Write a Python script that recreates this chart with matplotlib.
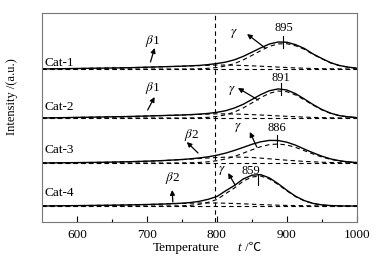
import matplotlib
matplotlib.use("Agg")
import matplotlib.pyplot as plt
import numpy as np

plt.rcParams['font.family'] = ['Liberation Serif', 'DejaVu Serif']
plt.rcParams['mathtext.fontset'] = 'stix'

temps = [550, 575, 600, 625, 650, 675, 700, 725, 750, 762.5, 775, 787.5, 800, 812.5, 825,
         837.5, 850, 862.5, 875, 887.5, 900, 912.5, 925, 937.5, 950, 962.5, 975, 987.5, 1000]

names = ["Cat-1", "Cat-2", "Cat-3", "Cat-4"]
baselines = [153, 104, 59, 16]

total1 = [0, 0.3, 0.5, 0.8, 1.0, 1.3, 1.8, 2.3, 2.8, 3.2, 3.6, 4.4, 5.5, 6.9, 9.2,
          12.6, 16.8, 21.1, 25.0, 27.0, 26.8, 24.3, 20.5, 15.0, 10.5, 6.3, 3.5, 1.9, 0.8]
beta1 = [0, 0.3, 0.5, 0.8, 1.0, 1.3, 1.8, 2.3, 2.8, 3.1, 3.4, 3.7, 4.0, 3.9, 3.8,
         3.5, 3.2, 2.8, 2.4, 1.9, 1.5, 1.1, 0.8, 0.5, 0.3, 0.2, 0.1, 0.05, 0]
gamma1 = [0, 0, 0, 0, 0, 0, 0, 0, 0, 0.1, 0.2, 0.7, 1.5, 3.0, 5.4,
          9.1, 13.6, 18.3, 22.6, 25.1, 25.3, 23.2, 19.7, 14.5, 10.2, 6.1, 3.4, 1.8, 0.8]

total2 = [0, 0.3, 0.6, 0.9, 1.2, 1.5, 2.0, 2.5, 3.0, 3.4, 3.9, 4.6, 5.7, 7.3, 10.0,
          13.7, 18.5, 23.4, 27.3, 29.1, 28.0, 24.3, 19.0, 13.4, 8.5, 4.8, 2.4, 1.2, 0.4]
beta2 = [0, 0.3, 0.6, 0.9, 1.2, 1.5, 2.0, 2.5, 3.0, 3.3, 3.6, 3.9, 4.2, 4.1, 4.0,
         3.7, 3.4, 3.0, 2.6, 2.1, 1.7, 1.3, 0.9, 0.6, 0.4, 0.2, 0.1, 0.05, 0]
gamma2 = [0, 0, 0, 0, 0, 0, 0, 0, 0, 0.1, 0.3, 0.7, 1.5, 3.2, 6.0,
          10.0, 15.1, 20.4, 24.7, 27.0, 26.3, 23.0, 18.1, 12.8, 8.1, 4.6, 2.3, 1.1, 0.4]

total3 = [0, 0.2, 0.4, 0.6, 0.9, 1.3, 1.8, 2.5, 3.5, 4.2, 5.1, 6.2, 7.8, 9.9, 12.6,
          15.6, 18.7, 21.2, 22.6, 22.5, 20.8, 17.8, 13.9, 10.2, 6.8, 4.1, 2.3, 1.1, 0.5]
beta3 = [0, 0.2, 0.4, 0.6, 0.9, 1.3, 1.8, 2.5, 3.4, 3.9, 4.5, 5.0, 5.5, 5.8, 6.0,
         5.8, 5.5, 4.9, 4.2, 3.5, 2.8, 2.2, 1.6, 1.2, 0.8, 0.5, 0.3, 0.1, 0]
gamma3 = [0, 0, 0, 0, 0, 0, 0, 0, 0.1, 0.25, 0.6, 1.2, 2.3, 4.1, 6.6,
          9.8, 13.2, 16.3, 18.4, 19.0, 18.0, 15.6, 12.3, 9.0, 6.0, 3.6, 2.0, 1.0, 0.5]

total4 = [0, 0.2, 0.4, 0.6, 0.8, 1.1, 1.5, 2.0, 2.8, 3.5, 4.7, 6.7, 9.5, 15.2, 20.5,
          27.0, 30.8, 31.4, 28.1, 22.3, 15.7, 9.7, 5.4, 2.6, 1.1, 0.45, 0.1, 0, 0]
beta4 = [0, 0.2, 0.4, 0.6, 0.8, 1.1, 1.5, 2.0, 2.6, 2.8, 3.0, 3.0, 3.0, 2.8, 2.5,
         2.2, 1.8, 1.4, 1.1, 0.8, 0.6, 0.4, 0.3, 0.2, 0.1, 0.05, 0, 0, 0]
gamma4 = [0, 0, 0, 0, 0, 0, 0, 0, 0.2, 0.7, 1.7, 3.7, 6.5, 12.4, 18.0,
          24.8, 29.0, 30.0, 27.0, 21.5, 15.1, 9.3, 5.1, 2.4, 1.0, 0.4, 0.1, 0, 0]

totals = [total1, total2, total3, total4]
betas = [beta1, beta2, beta3, beta4]
gammas = [gamma1, gamma2, gamma3, gamma4]

peak_temps = [895, 891, 886, 859]
peak_heights = [27, 29, 22, 31]
peak_label_xy = [(895, 194), (891, 144), (886, 94), (849, 51)]
beta_labels = [r"$\beta$1", r"$\beta$1", r"$\beta$2", r"$\beta$2"]
beta_text_xy = [(708, 181), (708, 134), (764, 87), (736, 44)]
beta_tail = [(705, 160), (701, 112), (773, 69), (737, 20)]
beta_head = [(711, 174), (711, 125), (757, 80), (736, 32)]
gamma_text_xy = [(824, 189), (821, 132), (830, 95), (807, 52)]
gamma_tail = [(869, 174), (859, 122), (857, 75), (826, 37)]
gamma_head = [(843, 188), (830, 134), (847, 90), (816, 49)]
label_y = [159, 115, 72, 29]
split_temp = 797

fig = plt.figure(figsize=(3.85, 2.58), dpi=100)
ax = fig.add_axes([0.109, 0.1395, 0.818, 0.8101])
x = np.array(temps)
dash = (0, (4, 3))
for i in range(4):
    b = baselines[i]
    ax.plot([temps[0], temps[-1]], [b, b], ls=dash, color='k', lw=0.8)
    ax.plot(x, b + np.array(betas[i]), ls=dash, color='k', lw=0.8)
    ax.plot(x, b + np.array(gammas[i]), ls=dash, color='k', lw=0.8)
    ax.plot(x, b + np.array(totals[i]), color='k', lw=1.0)
    pk = b + peak_heights[i]
    if i == 3:
        ax.plot([peak_temps[i], peak_temps[i]], [pk - 10, pk + 1], color='k', lw=0.8)
    else:
        ax.plot([peak_temps[i], peak_temps[i]], [pk - 6, pk + 6], color='k', lw=0.8)
    ax.text(*peak_label_xy[i], str(peak_temps[i]), ha='center', va='center', fontsize=9)
    ax.text(554, label_y[i], names[i], ha='left', va='center', fontsize=9.5)
    ax.text(*beta_text_xy[i], beta_labels[i], ha='center', va='center', fontsize=9.5)
    ax.annotate("", xy=beta_head[i], xytext=beta_tail[i],
                arrowprops=dict(arrowstyle='-|>', color='k', lw=0.9, mutation_scale=7, shrinkA=0, shrinkB=0))
    ax.text(*gamma_text_xy[i], r"$\gamma$", ha='center', va='center', fontsize=9.5)
    ax.annotate("", xy=gamma_head[i], xytext=gamma_tail[i],
                arrowprops=dict(arrowstyle='-|>', color='k', lw=0.9, mutation_scale=7, shrinkA=0, shrinkB=0))

ax.axvline(split_temp, color='k', ls=dash, lw=0.8)
ax.set_xlim(550, 1000)
ax.set_ylim(0, 209)
ax.set_xticks([600, 700, 800, 900, 1000])
ax.set_xticks([650, 750, 850, 950], minor=True)
ax.set_yticks([])
ax.tick_params(axis='x', direction='in', length=4, width=0.8, labelsize=9.5, pad=5, colors='k')
ax.tick_params(axis='x', which='minor', direction='in', length=2.5, width=0.8)
for s in ax.spines.values():
    s.set_color('#777777')
    s.set_linewidth(0.8)

# x-axis label pieces
fig.text(153 / 385, 1 - 248 / 258, "Temperature", ha='left', va='center', fontsize=9.5)
fig.text(237 / 385, 1 - 248 / 258, "t", ha='left', va='center', fontsize=9.5, style='italic')
fig.text(242 / 385, 1 - 248 / 258, " /℃", ha='left', va='center', fontsize=9,
         family=['Liberation Serif', 'Noto Sans CJK SC', 'DejaVu Sans'])

ax.set_ylabel("Intensity /(a.u.)", fontsize=9)
ax.yaxis.set_label_coords(-0.075, 0.60)
fig.savefig("out.png", dpi=100)
